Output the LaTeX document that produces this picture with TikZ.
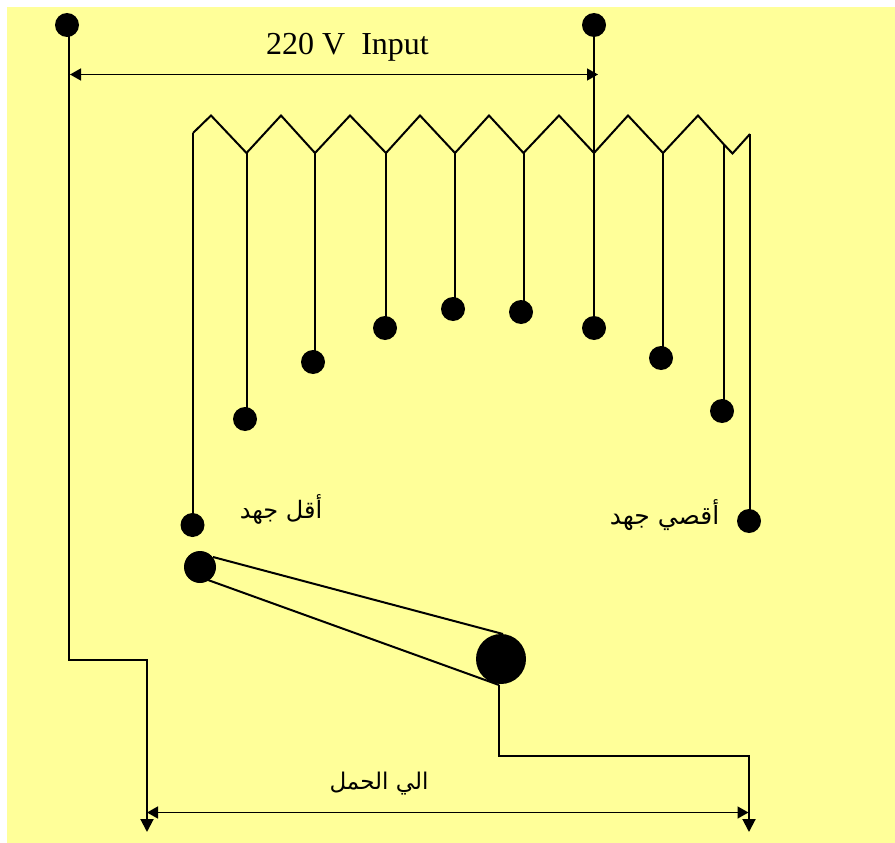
\documentclass[tikz,border=0pt]{standalone}
\usepackage{fontspec}
\setmainfont{Liberation Serif}
\newfontfamily\arabicfont[Script=Arabic]{DejaVu Sans}
\TeXXeTstate=1
\usetikzlibrary{arrows.meta}
\tikzset{
  wire/.style={line width=2pt,black,line join=miter},
  thin wire/.style={line width=1.5pt,black},
  dot/.style={circle,fill=black,inner sep=0pt,minimum size=#1},
  dot/.default=24pt,
  downtip/.style={-{Triangle[length=13pt,width=13pt]}},
  dim/.style={thin wire,{Triangle[length=11pt,width=12pt]}-{Triangle[length=11pt,width=12pt]}},
  lbl/.style={inner sep=0pt,black}
}
\begin{document}
\begin{tikzpicture}[x=1pt,y=-1pt]
\useasboundingbox (0,0) rectangle (895,843);
\fill[white] (0,0) rectangle (895,843);
\fill[fill={rgb,255:red,255;green,255;blue,153}] (7,7) rectangle (895,843);
% dots
\node[dot] (inA) at (67,25) {};
\node[dot] (inB) at (594,25) {};
\node[dot] (t1) at (245,419) {};
\node[dot] (t2) at (313,362) {};
\node[dot] (t3) at (385,328) {};
\node[dot] (t4) at (453,309) {};
\node[dot] (t5) at (521,312) {};
\node[dot] (t6) at (594,328) {};
\node[dot] (t7) at (661,358) {};
\node[dot] (t8) at (722,411) {};
\node[dot] (tmin) at (192.500,525) {};
\node[dot] (tmax) at (749,521) {};
\node[dot=32pt] (arm) at (200,567) {};
\node[dot=50pt] (piv) at (501,659) {};
% winding tap points
\coordinate (w0) at (193,133);
\coordinate (w1) at (246.500,153);
\coordinate (w2) at (315,153);
\coordinate (w3) at (386,153);
\coordinate (w4) at (455,153);
\coordinate (w5) at (523.500,153);
\coordinate (w6) at (594,153);
\coordinate (w7) at (663,153);
\coordinate (w8) at (723.500,144);
\coordinate (w9) at (750,134);
\draw[wire] (w0) -- (211,115.500) -- (w1) -- (281,115.500) -- (w2) -- (350,115.500)
  -- (w3) -- (420,115.500) -- (w4) -- (489,115.500) -- (w5) -- (559,115.500)
  -- (w6) -- (628,115.500) -- (w7) -- (698,115.500) -- (w8) -- (732.500,153.500) -- (w9);
\draw[wire] (w0) -- (w0 |- tmin);
\draw[wire] (w1) -- (w1 |- t1);
\draw[wire] (w2) -- (w2 |- t2);
\draw[wire] (w3) -- (w3 |- t3);
\draw[wire] (w4) -- (w4 |- t4);
\draw[wire] (w5) -- (w5 |- t5);
\draw[wire] (inB) -- (t6);
\draw[wire] (w7) -- (w7 |- t7);
\draw[wire] (w8) -- (w8 |- t8);
\draw[wire] (w9) -- (w9 |- tmax);
% switch arm
\coordinate (aU) at (213,557);
\coordinate (aL) at (208,580);
\coordinate (pU) at (503,634);
\coordinate (pL) at (499,685);
\draw[wire] (aU) -- (pU);
\draw[wire] (aL) -- (pL);
% output wires
\coordinate (outL) at (147,832);
\coordinate (outR) at (749,832);
\coordinate (dimL) at (147,812.500);
\coordinate (dimR) at (748.500,812.500);
\coordinate (inDimL) at (70,74.500);
\coordinate (inDimR) at (598,74.500);
\draw[wire,downtip] ([xshift=2pt]inA.center) -- (69,660) -- (147,660) -- (outL);
\draw[wire,downtip] (pL) -- (499,756) -- (749,756) -- (outR);
\draw[dim] (dimL) -- (dimR);
\draw[dim] (inDimL) -- (inDimR);
% labels
\node[lbl,font=\fontsize{32pt}{36pt}\selectfont] (input) at (347.500,47) {220 V\ \ Input};
\node[lbl,font=\arabicfont\fontsize{24pt}{28pt}\selectfont] (lmin) at (281,509) {\beginR أقل جهد\endR};
\node[lbl,font=\arabicfont\fontsize{25pt}{28pt}\selectfont] (lmax) at (664.500,515) {\beginR أقصي جهد\endR};
\node[lbl,font=\arabicfont\fontsize{23pt}{28pt}\selectfont] (lload) at (379,784) {\beginR الي الحمل\endR};
\end{tikzpicture}
\end{document}
